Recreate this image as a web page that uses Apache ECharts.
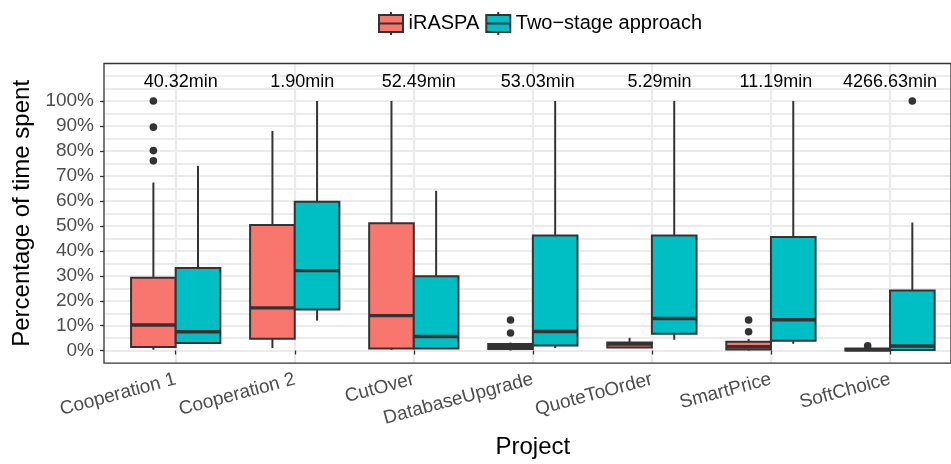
<!DOCTYPE html>
<html>
<head>
<meta charset="utf-8">
<script src="https://cdn.jsdelivr.net/npm/echarts@6/dist/echarts.min.js"></script>
<style>html,body{margin:0;padding:0;background:#fff}#c{width:951px;height:464px}</style>
</head>
<body>
<div id="c"></div>
<script>
const categories = ['Cooperation 1','Cooperation 2','CutOver','DatabaseUpgrade','QuoteToOrder','SmartPrice','SoftChoice'];
const seriesNames = ['iRASPA', 'Two\u2212stage approach'];
const yTickValues = [0, 0.1, 0.2, 0.3, 0.4, 0.5, 0.6, 0.7, 0.8, 0.9, 1.0];

const iraspaLow    = [0.003, 0.010, 0.003, 0.000, 0.012, 0.000, 0.000];
const iraspaQ1     = [0.014, 0.047, 0.008, 0.006, 0.012, 0.004, 0.000];
const iraspaMedian = [0.102, 0.171, 0.140, 0.015, 0.026, 0.015, 0.003];
const iraspaQ3     = [0.292, 0.503, 0.510, 0.026, 0.032, 0.035, 0.008];
const iraspaHigh   = [0.673, 0.880, 1.000, 0.032, 0.051, 0.046, 0.008];
const iraspaOutliers = [[0,1.000],[0,0.895],[0,0.801],[0,0.760],[3,0.122],[3,0.070],[5,0.122],[5,0.075],[6,0.019]];

const twoLow    = [0.030, 0.120, 0.008, 0.010, 0.043, 0.027, 0.000];
const twoQ1     = [0.030, 0.164, 0.008, 0.020, 0.067, 0.039, 0.002];
const twoMedian = [0.075, 0.320, 0.056, 0.076, 0.128, 0.123, 0.018];
const twoQ3     = [0.331, 0.596, 0.298, 0.461, 0.461, 0.455, 0.240];
const twoHigh   = [0.740, 1.000, 0.640, 1.000, 1.000, 1.000, 0.513];
const twoOutliers = [[6,1.000]];

const minLabels = ['  40.32min','   1.90min','  52.49min','  53.03min','   5.29min','  11.19min','4266.63min'];
const minLabelY = 1.075;

const COLORS = ['#F8766D', '#00BFC4'];
const LINE = '#333333';
const Y_MIN = -0.05, Y_MAX = 1.15;

function boxData(low, q1, med, q3, high) {
  return categories.map((c, i) => [i, low[i], q1[i], med[i], q3[i], high[i]]);
}

function boxRender(sign, color) {
  return function (params, api) {
    const i = api.value(0);
    const band = api.size([1, 0])[0];
    const half = band * 0.1875;
    const cx = api.coord([i, 0])[0] + sign * half;
    const y = k => api.coord([i, api.value(k)])[1];
    const yLow = y(1), yQ1 = y(2), yMed = y(3), yQ3 = y(4), yHigh = y(5);
    const ls = { stroke: LINE, lineWidth: 2 };
    return {
      type: 'group',
      children: [
        { type: 'line', shape: { x1: cx, y1: yQ3, x2: cx, y2: yHigh }, style: ls },
        { type: 'line', shape: { x1: cx, y1: yQ1, x2: cx, y2: yLow }, style: ls },
        { type: 'rect', shape: { x: cx - half, y: yQ3, width: 2 * half, height: Math.max(yQ1 - yQ3, 0.5) },
          style: { fill: color, stroke: LINE, lineWidth: 2 } },
        { type: 'line', shape: { x1: cx - half, y1: yMed, x2: cx + half, y2: yMed }, style: { stroke: LINE, lineWidth: 3.4 } }
      ]
    };
  };
}

function outlierRender(sign) {
  return function (params, api) {
    const i = api.value(0);
    const band = api.size([1, 0])[0];
    const p = api.coord([i, api.value(1)]);
    return { type: 'circle', shape: { cx: p[0] + sign * band * 0.1875, cy: p[1], r: 3.8 }, style: { fill: LINE } };
  };
}

const chart = echarts.init(document.getElementById('c'));
const legendIcon = 'path://M12.5,0L12.5,3M0.5,3L24.5,3L24.5,20L0.5,20ZM0.5,11.5L24.5,11.5M12.5,20L12.5,23';

chart.setOption({
  animation: false,
  textStyle: { fontFamily: '"Liberation Sans", Arial, Helvetica, sans-serif' },
  legend: {
    left: 373, top: 6,
    itemWidth: 25, itemHeight: 23, itemGap: 6,
    textStyle: { fontSize: 20, color: '#000' },
    data: [
      { name: seriesNames[0], icon: legendIcon, itemStyle: { color: COLORS[0], borderColor: LINE, borderWidth: 2 } },
      { name: seriesNames[1], icon: legendIcon, itemStyle: { color: COLORS[1], borderColor: LINE, borderWidth: 2 } }
    ]
  },
  grid: [
    { left: 175.7, right: 61, top: 63.5, bottom: 100.8 },
    { left: 104, right: -10, top: 63.5, bottom: 100.8, show: true, borderColor: LINE, borderWidth: 1.3, backgroundColor: 'transparent', z: 5 }
  ],
  xAxis: [
    {
      gridIndex: 0, type: 'category', data: categories, boundaryGap: false,
      axisLine: { show: false },
      axisTick: { show: true, length: 4, lineStyle: { color: LINE, width: 1.3 } },
      axisLabel: { rotate: 15, fontSize: 19, color: '#4D4D4D', margin: 16, interval: 0 },
      splitLine: { show: true, lineStyle: { color: '#EBEBEB', width: 2.2 } },
      name: 'Project', nameLocation: 'middle', nameGap: 72,
      nameTextStyle: { fontSize: 24, color: '#000' }
    },
    { gridIndex: 1, type: 'value', min: 0, max: 1, show: false }
  ],
  yAxis: [
    { gridIndex: 0, type: 'value', min: Y_MIN, max: Y_MAX, show: false },
    {
      gridIndex: 1, type: 'value', min: Y_MIN, max: Y_MAX, interval: 0.05,
      axisLine: { show: false },
      axisTick: { show: true, length: 4, lineStyle: { color: LINE, width: 1.3 }, customValues: yTickValues },
      axisLabel: {
        fontSize: 19, color: '#4D4D4D', margin: 10, customValues: yTickValues,
        formatter: v => { const p = Math.round(v * 100); return (p % 10 === 0 && p >= 0 && p <= 100) ? p + '%' : ''; }
      },
      splitLine: { show: false },
      name: 'Percentage of time spent', nameLocation: 'middle', nameGap: 70,
      nameTextStyle: { fontSize: 24, color: '#000' }
    },
    {
      gridIndex: 1, type: 'value', min: Y_MIN, max: Y_MAX, interval: 0.05,
      axisLine: { show: false }, axisTick: { show: false }, axisLabel: { show: false },
      splitLine: { show: true, showMinLine: false, showMaxLine: false, lineStyle: { color: '#EBEBEB', width: 2.2 } }
    }
  ],
  series: [
    { name: seriesNames[0], type: 'custom', xAxisIndex: 0, yAxisIndex: 0,
      itemStyle: { color: COLORS[0], borderColor: LINE },
      renderItem: boxRender(-1, COLORS[0]),
      data: boxData(iraspaLow, iraspaQ1, iraspaMedian, iraspaQ3, iraspaHigh) },
    { name: seriesNames[1], type: 'custom', xAxisIndex: 0, yAxisIndex: 0,
      itemStyle: { color: COLORS[1], borderColor: LINE },
      renderItem: boxRender(1, COLORS[1]),
      data: boxData(twoLow, twoQ1, twoMedian, twoQ3, twoHigh) },
    { name: 'iraspa-outliers', type: 'custom', xAxisIndex: 0, yAxisIndex: 0,
      renderItem: outlierRender(-1), data: iraspaOutliers },
    { name: 'two-outliers', type: 'custom', xAxisIndex: 0, yAxisIndex: 0,
      renderItem: outlierRender(1), data: twoOutliers },
    { name: 'time-labels', type: 'custom', xAxisIndex: 0, yAxisIndex: 0,
      data: minLabels.map((t, i) => [i, minLabelY, t]),
      renderItem: function (params, api) {
        const i = api.value(0);
        const p = api.coord([i, api.value(1)]);
        return { type: 'text', x: p[0], y: p[1],
          style: { text: minLabels[i], fontSize: 18, fill: '#000', align: 'center', verticalAlign: 'middle',
                   fontFamily: '"Liberation Sans", Arial, sans-serif' } };
      } }
  ]
});
</script>
</body>
</html>
